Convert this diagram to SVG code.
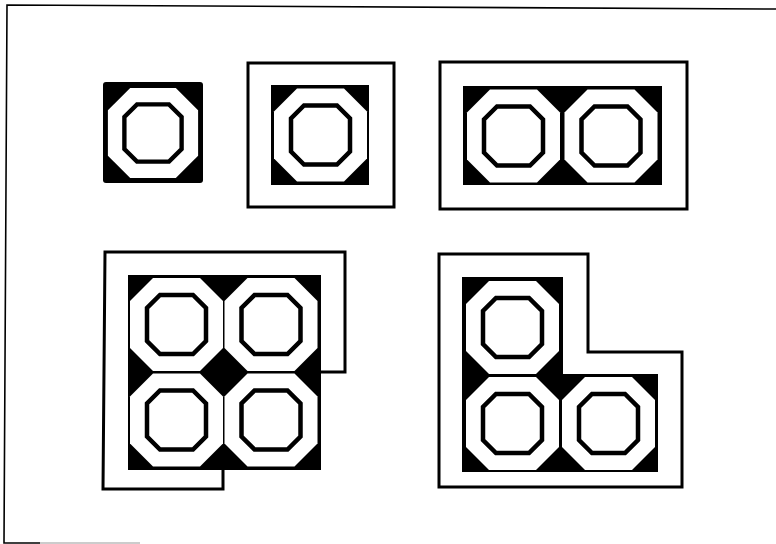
<svg xmlns="http://www.w3.org/2000/svg" xmlns:xlink="http://www.w3.org/1999/xlink" width="776" height="544" viewBox="0 0 776 544">
  <style>
    .blk { fill: #000; }
    .ring { fill: #fff; }
    .hole { fill: #fff; stroke: #000; stroke-width: 4.5; stroke-linejoin: miter; }
    .outline { fill: none; stroke: #000; stroke-width: 3; stroke-linejoin: miter; }
    .frame { fill: none; stroke: #000; stroke-width: 1.6; }
  </style>
  <defs>
    <g id="oct">
      <polygon class="ring" points="-23.5,-46.5 23.5,-46.5 46.5,-23.5 46.5,23.5 23.5,46.5 -23.5,46.5 -46.5,23.5 -46.5,-23.5"/>
      <polygon class="hole" points="-16.5,-29.5 16.5,-29.5 29.5,-16.5 29.5,16.5 16.5,29.5 -16.5,29.5 -29.5,16.5 -29.5,-16.5"/>
    </g>
  </defs>
  <rect width="776" height="544" fill="#fff"/>
  <g id="page-frame">
    <polyline class="frame" points="776,9 7,5 4,543 40,543"/>
    <line x1="40" y1="543" x2="140" y2="543" stroke="#999" stroke-width="1.2"/>
  </g>
  <g id="cell-1">
    <rect class="blk" x="103" y="82" width="100" height="101" rx="3"/>
    <use xlink:href="#oct" href="#oct" transform="translate(153,133) scale(0.97)"/>
  </g>
  <g id="cell-2">
    <rect class="outline" x="248" y="63" width="146" height="144"/>
    <rect class="blk" x="271" y="85" width="98" height="100"/>
    <use xlink:href="#oct" href="#oct" transform="translate(320.5,135)"/>
  </g>
  <g id="cell-3">
    <rect class="outline" x="440" y="62" width="247" height="147"/>
    <rect class="blk" x="463" y="86" width="199" height="99"/>
    <use xlink:href="#oct" href="#oct" transform="translate(513.5,136)"/>
    <use xlink:href="#oct" href="#oct" transform="translate(611,136)"/>
  </g>
  <g id="cell-4">
    <polyline class="outline" points="321,372 345,372 345,252 105,252 103,489 223,489 223,470"/>
    <rect class="blk" x="128" y="275" width="193" height="195"/>
    <use xlink:href="#oct" href="#oct" transform="translate(176.5,324.5)"/>
    <use xlink:href="#oct" href="#oct" transform="translate(271,324.5)"/>
    <use xlink:href="#oct" href="#oct" transform="translate(176.5,420)"/>
    <use xlink:href="#oct" href="#oct" transform="translate(271,420)"/>
  </g>
  <g id="cell-5">
    <polygon class="outline" points="439,254 588,254 588,352 682,352 682,487 439,487"/>
    <polygon class="blk" points="462,277 563,277 563,374 658,374 658,472 462,472"/>
    <use xlink:href="#oct" href="#oct" transform="translate(512.5,327.5)"/>
    <use xlink:href="#oct" href="#oct" transform="translate(512.5,423.5)"/>
    <use xlink:href="#oct" href="#oct" transform="translate(608.5,423.5)"/>
  </g>
</svg>
